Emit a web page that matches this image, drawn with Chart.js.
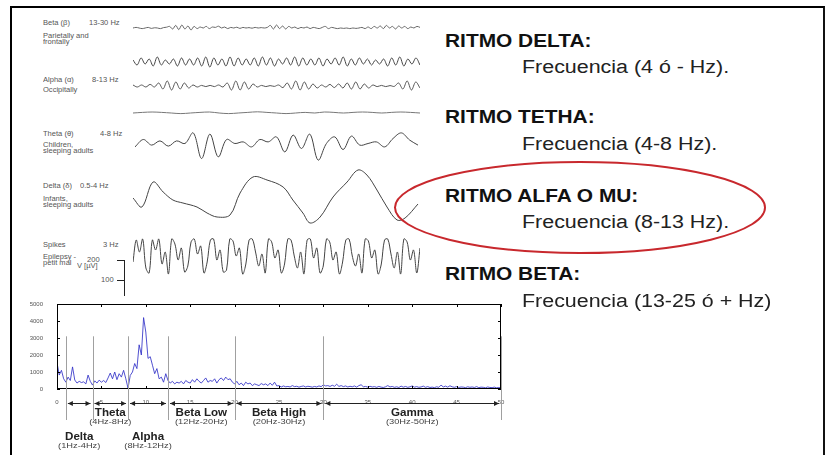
<!DOCTYPE html>
<html>
<head>
<meta charset="utf-8">
<script src="https://cdn.jsdelivr.net/npm/chart.js@4.4.1/dist/chart.umd.min.js"></script>
<style>
html,body{margin:0;padding:0;background:#fff;}
body{width:827px;height:455px;position:relative;overflow:hidden;font-family:"Liberation Sans",Arial,sans-serif;}
.frame{position:absolute;left:10px;top:6px;width:811px;height:460px;border-top:2px solid #000;border-left:2px solid #000;border-right:2px solid #111;}
.box{position:absolute;}
.lbl{position:absolute;font-size:6.5px;line-height:1;color:#555;white-space:nowrap;transform:scaleX(1.16);transform-origin:0 0;}
.head{position:absolute;left:445px;font-weight:bold;font-size:18px;line-height:1;color:#111;white-space:nowrap;transform:scaleX(1.16);transform-origin:0 0;}
.freq{position:absolute;left:522px;font-size:18px;line-height:1;color:#222;white-space:nowrap;transform:scaleX(1.19);transform-origin:0 0;}
.bar{position:absolute;background:#222;}
svg{position:absolute;left:0;top:0;}
</style>
</head>
<body>
<div class="frame"></div>

<!-- etiquetas de las ondas -->
<div class="lbl" style="left:43px;top:20px">Beta (&beta;)</div>
<div class="lbl" style="left:89px;top:20px">13-30 Hz</div>
<div class="lbl" style="left:43px;top:33px">Parietally and</div>
<div class="lbl" style="left:43px;top:39px">frontally</div>
<div class="lbl" style="left:43px;top:77px">Alpha (&alpha;)</div>
<div class="lbl" style="left:92px;top:77px">8-13 Hz</div>
<div class="lbl" style="left:43px;top:87px">Occipitally</div>
<div class="lbl" style="left:43px;top:131px">Theta (&theta;)</div>
<div class="lbl" style="left:100px;top:131px">4-8 Hz</div>
<div class="lbl" style="left:43px;top:142px">Children,</div>
<div class="lbl" style="left:43px;top:147.5px">sleeping adults</div>
<div class="lbl" style="left:43px;top:183px">Delta (&delta;)</div>
<div class="lbl" style="left:80px;top:183px">0.5-4 Hz</div>
<div class="lbl" style="left:43px;top:196px">Infants,</div>
<div class="lbl" style="left:43px;top:201.5px">sleeping adults</div>
<div class="lbl" style="left:43px;top:242px">Spikes</div>
<div class="lbl" style="left:103px;top:242px">3 Hz</div>
<div class="lbl" style="left:43px;top:254px">Epilepsy -</div>
<div class="lbl" style="left:43px;top:259.5px">petit mal</div>
<div class="lbl" style="left:87px;top:256.5px">200</div>
<div class="lbl" style="left:77px;top:262.5px">V [&micro;V]</div>
<div class="lbl" style="left:101px;top:276.5px">100</div>
<div class="bar" style="left:124px;top:260px;width:1px;height:36px"></div>
<div class="bar" style="left:117px;top:260px;width:7px;height:1px"></div>
<div class="bar" style="left:117px;top:280px;width:7px;height:1px"></div>

<!-- ondas -->
<div class="box" style="left:133px;top:16px;width:287px;height:24px"><canvas id="wBeta"></canvas></div>
<div class="box" style="left:133px;top:50px;width:287px;height:24px"><canvas id="wAlpha1"></canvas></div>
<div class="box" style="left:133px;top:74px;width:287px;height:24px"><canvas id="wAlpha2"></canvas></div>
<div class="box" style="left:133px;top:106px;width:287px;height:14px"><canvas id="wFlat"></canvas></div>
<div class="box" style="left:135px;top:123px;width:283px;height:41px"><canvas id="wTheta"></canvas></div>
<div class="box" style="left:133px;top:162px;width:287px;height:70px"><canvas id="wDelta"></canvas></div>
<div class="box" style="left:133px;top:232px;width:287px;height:48px"><canvas id="wSpike"></canvas></div>

<!-- espectro -->
<div class="box" style="left:0px;top:290px;width:530px;height:165px"><canvas id="spec"></canvas></div>

<!-- texto derecho -->
<div class="head" style="top:32px">RITMO DELTA:</div>
<div class="freq" style="top:58px">Frecuencia (4 ó - Hz).</div>
<div class="head" style="top:108px">RITMO TETHA:</div>
<div class="freq" style="top:135px">Frecuencia (4-8 Hz).</div>
<div class="head" style="top:187px">RITMO ALFA O MU:</div>
<div class="freq" style="top:213px">Frecuencia (8-13 Hz).</div>
<div class="head" style="top:265px">RITMO BETA:</div>
<div class="freq" style="top:292px">Frecuencia (13-25 ó + Hz)</div>

<svg width="827" height="455"><ellipse cx="580" cy="207.5" rx="185" ry="45.5" fill="none" stroke="#c8282d" stroke-width="2"/></svg>

<script>
// === Datos ===
// ondas EEG en µV (5 µV por pixel)
const betaWave = [0,3,0,-3,0,3,-2,1,0,-3,2,4, 8,-5,13,-8,15,-5,10,-10,8,-3,
  5,0,8,-3,5,3,9,0,5,-3,3,0,4,-2,3,0,2,-1,3,0,2,0,3,
  13,-5,15,-3,10,-5,8,0,5,-3,
  3,0,5,-3,3,0,-3,3,8,-3,3,0,-3,0,-2,0,-3,0,-2,0,
  3,-3,5,-3,8,0,10,-3,13,0,8,-5,10,0,8,-3,5,0,8,3];
const alphaWave1 = [10,-15,20,-10,15,-20,25,-15,10,-10, 15,-20,20,-15,15,-15,20,-20,25,-25,
  20,-15,15,-20,25,-20,20,-15,15,-15, 20,-20,25,-15,20,-20,15,-10,20,-15,
  25,-20,20,-15,15,-15,20,-20,15,-10, 20,-15,25,-20,15,-15,20,-10,15,-15,
  10,-10,15,-20,20,-15,25,-20,15,-10, 20,-15];
const alphaWave2 = [5,-5,5,-5,8,-5,15,-15,25,-20,20,-15,15,-10,5,-5,3,-3,3,-3,
  5,-5,15,-20,25,-20,20,-15,10,-5,3,-3,2,-2,5,-8,15,-15,25,-20,
  20,-15,10,-10,5,-5,8,-8,10,-10,15,-15,20,-15,10,-10,5,-3,3,-3,
  2,-2,15,-15,25,-20,20,-10];
const flatWave = [0,3,5,3,0,-3,0,3,5,0,-3,0,3,6,3,0,-3,0,3,0,5,3,0,3,5,3,0,3,5,3,0];
const thetaWave = [-17,20,-8,13,-13,13,0,53,-75,47,-67,20,0,8,-17,20,8,33,-42,42,
  -25,47,-83,0,33,-30,37,-8,0,8,-17,25,53,17,-8];
const deltaTime = [0,31,70,105,139,174,223,258,293,338,373,418,467,523,557,592,617,652,697,746,784,815,850,885,920,948,993];
const deltaWave = [-5,-50,75,25,-15,-30,-50,-80,-100,-90,20,100,85,50,-15,-80,-130,-100,0,75,135,110,35,-50,-115,-105,-35];
const spikeWave = [-30,80,20,85,-60,-85, 80,30,85,-40,20,-90, 85,60,-20,40,-80,-50,
  70,85,10,50,-85,-30, 80,85,-20,30,-80,-70, 85,75,0,40,-90,-40,
  80,85,20,-50,10,-85, 85,70,-10,30,-85,-40, 85,80,0,-60,20,-90,
  80,85,-10,40,-85,-50, 85,70,-20,20,-90,-30, 80,85,0,-50,10,-85,
  85,75,-10,30,-90,-40, 80,85,10,-60,20,-90, 85,70,-20,30,-85,40];

// espectro de potencia, paso 0.25 Hz, de 0 a 50 Hz
const spectrumStep = 0.25;
const spectrumPower = [
  1550,820,1100,600, 400,700,500,1300,
  530,350,450,380, 420,300,820,450,
  230,480,350,520, 400,500,380,650,
  940,600,1000,550, 900,700,1100,600,
  50,800,1000,1500, 1200,2600,2000,4200,
  3350,1800,1900,1400, 900,1200,600,700,
  400,900,500,350, 450,300,400,350,
  450,300,500,400, 350,550,400,600,
  450,350,500,650, 400,500,450,600,
  350,550,650,500, 700,550,600,400,
  300,450,250,350, 200,400,300,350,
  200,300,250,200, 320,250,300,200,
  350,220,400,180, 200,120,180,130,
  150,120,200,140, 160,110,150,180,
  120,160,140,110, 150,120,180,140,
  250,180,200,150, 220,160,280,150,
  200,140,180,120, 160,130,180,110,
  200,250,130,150, 110,160,120,140,
  100,150,110,90, 130,200,120,150,
  100,130,90,170, 110,150,100,130,
  180,110,140,100, 120,170,100,140,
  90,110,80,130, 100,230,120,170,
  110,190,130,100, 140,90,120,110,
  80,130,100,120, 90,140,80,110,
  100,70,120,90, 80,110,70,90,
  60];
const xTickStep = 5;
const yTickStep = 1000;
const bandEdges = [1, 4, 8, 12.5, 20, 30, 50];
const bandNames = ["Delta", "Theta", "Alpha", "Beta Low", "Beta High", "Gamma"];
const bandRanges = ["(1Hz-4Hz)", "(4Hz-8Hz)", "(8Hz-12Hz)", "(12Hz-20Hz)", "(20Hz-30Hz)", "(30Hz-50Hz)"];
const bandRow = [1, 0, 1, 0, 0, 0];

// === Ondas ===
function makeWave(id, values, times, color) {
  const cv = document.getElementById(id);
  const range = cv.parentNode.clientHeight * 2.5; // 5 µV por pixel
  const pts = values.map((v, i) => ({ x: times ? times[i] : i, y: v }));
  return new Chart(cv, {
    type: "line",
    data: { datasets: [{ data: pts, borderColor: color || "#444", borderWidth: 1, pointRadius: 0, tension: 0.35, clip: false }] },
    options: {
      responsive: true, maintainAspectRatio: false, animation: false,
      plugins: { legend: { display: false }, tooltip: { enabled: false } },
      layout: { padding: 0 },
      scales: {
        x: { type: "linear", display: false, min: 0, max: times ? 1000 : values.length - 1 },
        y: { display: false, min: -range, max: range }
      }
    }
  });
}

makeWave("wBeta", betaWave, null, "#666");
makeWave("wAlpha1", alphaWave1);
makeWave("wAlpha2", alphaWave2, null, "#555");
makeWave("wFlat", flatWave, null, "#777");
makeWave("wTheta", thetaWave);
makeWave("wDelta", deltaWave, deltaTime);
makeWave("wSpike", spikeWave);

// === Espectro ===
function sText(ctx, str, cx, cy, font, color) {
  ctx.save();
  ctx.translate(cx, cy);
  ctx.scale(1.16, 1);
  ctx.font = font;
  ctx.fillStyle = color;
  ctx.textAlign = "center";
  ctx.textBaseline = "middle";
  ctx.fillText(str, 0, 0);
  ctx.restore();
}

const bandPlugin = {
  id: "bands",
  afterDraw(chart) {
    const { ctx, chartArea: a, scales: { x, y } } = chart;
    ctx.save();
    ctx.strokeStyle = "#000";
    ctx.lineWidth = 1;
    ctx.strokeRect(a.left + 0.5, a.top + 0.5, a.right - a.left - 1, a.bottom - a.top - 1);
    ctx.beginPath();
    x.ticks.forEach(t => {
      const px = Math.round(x.getPixelForValue(t.value)) + 0.5;
      ctx.moveTo(px, a.bottom); ctx.lineTo(px, a.bottom - 3);
      ctx.moveTo(px, a.top); ctx.lineTo(px, a.top + 3);
    });
    y.ticks.forEach(t => {
      const py = Math.round(y.getPixelForValue(t.value)) + 0.5;
      ctx.moveTo(a.left, py); ctx.lineTo(a.left + 3, py);
      ctx.moveTo(a.right, py); ctx.lineTo(a.right - 3, py);
    });
    ctx.stroke();

    // lineas de banda
    ctx.strokeStyle = "#a0a0a0";
    ctx.beginPath();
    const top = y.getPixelForValue(3100);
    bandEdges.forEach(e => {
      const px = Math.round(x.getPixelForValue(e)) + 0.5;
      ctx.moveTo(px, top); ctx.lineTo(px, a.bottom + 31);
    });
    ctx.stroke();

    // flechas
    const ya = a.bottom + 14.5;
    ctx.strokeStyle = "#222";
    ctx.fillStyle = "#222";
    for (let i = 0; i < bandNames.length; i++) {
      const x0 = x.getPixelForValue(bandEdges[i]) + 2;
      const x1 = x.getPixelForValue(bandEdges[i + 1]) - 2;
      ctx.beginPath(); ctx.moveTo(x0, ya); ctx.lineTo(x1, ya); ctx.stroke();
      ctx.beginPath(); ctx.moveTo(x0, ya); ctx.lineTo(x0 + 5, ya - 2.5); ctx.lineTo(x0 + 5, ya + 2.5); ctx.fill();
      ctx.beginPath(); ctx.moveTo(x1, ya); ctx.lineTo(x1 - 5, ya - 2.5); ctx.lineTo(x1 - 5, ya + 2.5); ctx.fill();
      const cx = (x.getPixelForValue(bandEdges[i]) + x.getPixelForValue(bandEdges[i + 1])) / 2;
      const ny = a.bottom + (bandRow[i] ? 48 : 24);
      sText(ctx, bandNames[i], cx, ny, "bold 10px 'Liberation Sans', Arial", "#222");
      sText(ctx, bandRanges[i], cx, ny + 9, "8px 'Liberation Sans', Arial", "#444");
    }
    ctx.restore();
  }
};

new Chart(document.getElementById("spec"), {
  type: "line",
  data: {
    datasets: [{
      data: spectrumPower.map((v, i) => ({ x: i * spectrumStep, y: v })),
      borderColor: "rgba(50,50,200,0.85)",
      borderWidth: 1,
      pointRadius: 0,
      tension: 0
    }]
  },
  options: {
    responsive: true, maintainAspectRatio: false, animation: false,
    plugins: { legend: { display: false }, tooltip: { enabled: false } },
    layout: { padding: { left: 0, right: 29, top: 14, bottom: 0 } },
    scales: {
      x: {
        type: "linear", min: 0, max: 50,
        grid: { display: false }, border: { display: false },
        ticks: { stepSize: xTickStep, font: { size: 6 }, color: "#555", padding: 2, maxRotation: 0, callback: v => String(v) },
        afterFit: s => { s.height = 66; }
      },
      y: {
        min: 0, max: 5000,
        grid: { display: false }, border: { display: false },
        ticks: { stepSize: yTickStep, font: { size: 6 }, color: "#555", padding: 6, callback: v => String(v) },
        afterFit: s => { s.width = 57; }
      }
    }
  },
  plugins: [bandPlugin]
});
</script>
</body>
</html>
